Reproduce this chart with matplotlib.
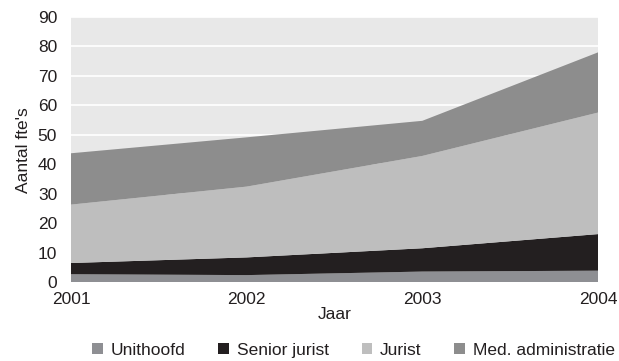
import matplotlib
matplotlib.use("Agg")
import matplotlib.pyplot as plt
from matplotlib.patches import Patch

years = [2001, 2002, 2003, 2004]
unithoofd = [2.8, 2.5, 3.7, 4.0]
senior_jurist = [3.8, 6.0, 7.9, 12.4]
jurist = [19.8, 24.0, 31.3, 41.2]
med_administratie = [17.4, 16.7, 11.9, 20.4]
series_labels = ["Unithoofd", "Senior jurist", "Jurist", "Med. administratie"]
colors = ["#8e8f93", "#231f20", "#bebebe", "#8d8d8d"]
y_ticks = list(range(0, 100, 10))

plt.rcParams["font.family"] = ["Liberation Sans", "DejaVu Sans"]

fig = plt.figure(figsize=(6.19, 3.61), dpi=100)
ax = fig.add_axes([0.1147, 0.2175, 0.8514, 0.7355])
ax.set_facecolor("#e8e8e8")

ax.stackplot(years, unithoofd, senior_jurist, jurist, med_administratie,
             colors=colors, linewidth=0, zorder=2)

ax.set_xlim(years[0], years[-1])
ax.set_ylim(0, 90)
ax.set_yticks(y_ticks)
ax.set_xticks(years)
ax.set_xticklabels([str(y) for y in years])
ax.yaxis.grid(True, color="white", linewidth=1.2, zorder=1)
ax.set_axisbelow(True)
for s in ax.spines.values():
    s.set_visible(False)
ax.tick_params(length=0, labelsize=12.5, colors="#231f20")
ax.tick_params(axis="x", pad=7)
ax.tick_params(axis="y", pad=10)

ax.set_xlabel("Jaar", fontsize=12.5, color="#231f20", labelpad=0)
ax.set_ylabel("Aantal fte's", fontsize=12.5, color="#231f20", labelpad=5)

handles = [Patch(facecolor=c, edgecolor="none") for c in colors]
fig.legend(handles, series_labels, loc="center", bbox_to_anchor=(0.571, 0.03),
           ncol=4, frameon=False, fontsize=12.5, handlelength=0.6, handleheight=0.6,
           handletextpad=0.45, columnspacing=1.9, labelcolor="#231f20")

fig.savefig("out.png", dpi=100)
